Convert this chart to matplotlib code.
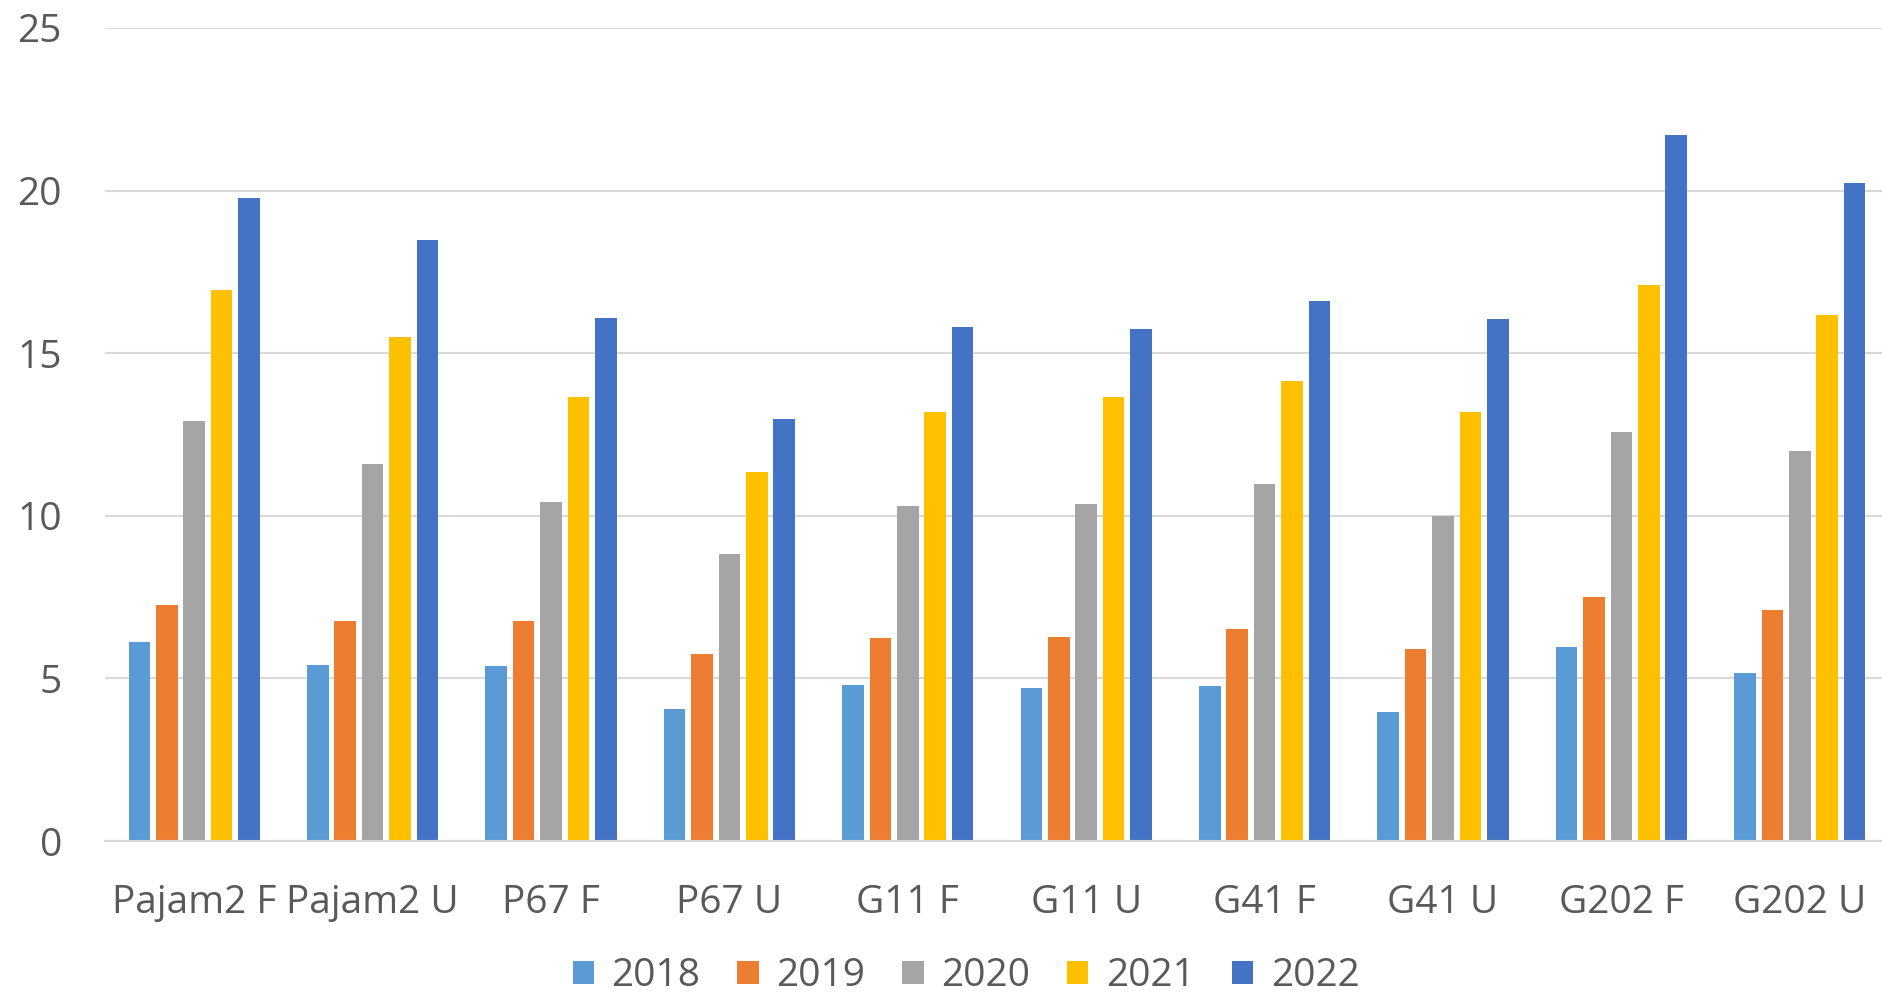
import matplotlib
matplotlib.use("Agg")
import matplotlib.pyplot as plt
import numpy as np

categories = ["Pajam2 F", "Pajam2 U", "P67 F", "P67 U", "G11 F",
              "G11 U", "G41 F", "G41 U", "G202 F", "G202 U"]
years = ["2018", "2019", "2020", "2021", "2022"]
v2018 = [6.13, 5.40, 5.38, 4.06, 4.79, 4.72, 4.76, 3.98, 5.96, 5.17]
v2019 = [7.26, 6.77, 6.75, 5.75, 6.23, 6.27, 6.53, 5.90, 7.49, 7.09]
v2020 = [12.91, 11.59, 10.43, 8.81, 10.29, 10.36, 10.99, 9.99, 12.58, 11.99]
v2021 = [16.95, 15.51, 13.64, 11.36, 13.20, 13.64, 14.16, 13.20, 17.09, 16.16]
v2022 = [19.76, 18.47, 16.08, 12.98, 15.82, 15.74, 16.59, 16.04, 21.70, 20.24]
series = [v2018, v2019, v2020, v2021, v2022]
colors = ["#5B9BD5", "#ED7D31", "#A5A5A5", "#FFC000", "#4472C4"]

FONT = ["Open Sans", "DejaVu Sans"]
TXT = "#595959"
W, H = 1882, 996

fig = plt.figure(figsize=(W / 100, H / 100), dpi=100)
ax = fig.add_axes([105 / W, 1 - 841 / H, (1889 - 105) / W, (841 - 28) / H])

x = np.arange(len(categories))
pitch, width = 0.1536, 0.1216
for i, (vals, c, yr) in enumerate(zip(series, colors, years)):
    ax.bar(x + (i - 2) * pitch, vals, width=width, color=c, label=yr, zorder=2)

ax.set_xlim(-0.5, len(categories) - 0.5)
ax.set_ylim(0, 25)
ax.set_yticks(range(0, 26, 5))
ax.set_xticks(x)
ax.set_xticklabels(categories)
ax.yaxis.grid(True, color="#D9D9D9", linewidth=1.5, zorder=0)
ax.set_axisbelow(True)
for s in ["top", "right", "left"]:
    ax.spines[s].set_visible(False)
ax.spines["bottom"].set_color("#D9D9D9")
ax.spines["bottom"].set_linewidth(1.5)
ax.tick_params(axis="both", length=0, colors=TXT, labelsize=28)
ax.tick_params(axis="x", pad=31)
ax.tick_params(axis="y", pad=31)
for lab in ax.get_xticklabels() + ax.get_yticklabels():
    lab.set_family(FONT)

fig.legend(loc="center", bbox_to_anchor=(966 / W, 1 - 976 / H), ncol=5,
           frameon=False, handlelength=0.55, handleheight=0.55,
           handletextpad=0.45, columnspacing=0.95, borderpad=0.2,
           prop={"family": FONT, "size": 28}, labelcolor=TXT)

fig.savefig("out.png", dpi=100)
